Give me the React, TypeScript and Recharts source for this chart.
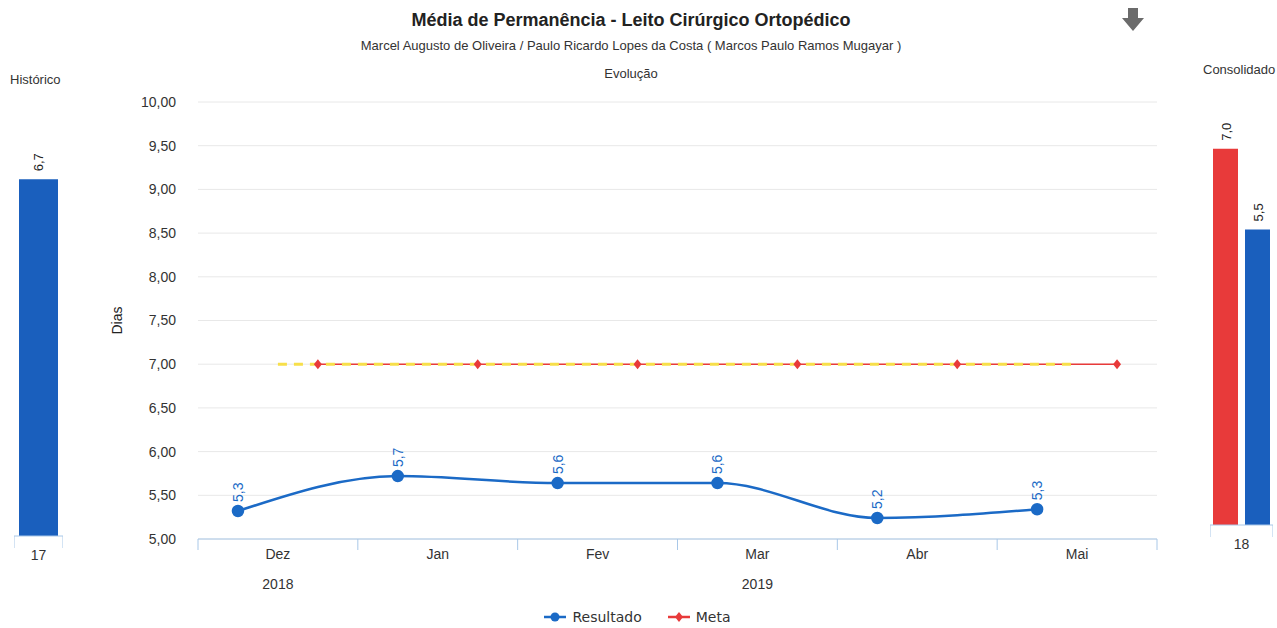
import React from 'react'
import {
  LineChart, Line, XAxis, YAxis, CartesianGrid, Legend, LabelList,
  BarChart, Bar,
} from 'recharts'

// Evolução (main line chart)
const meses = ['Dez', 'Jan', 'Fev', 'Mar', 'Abr', 'Mai']
const anos = ['2018', '2019']
const resultado = [5.32, 5.72, 5.64, 5.64, 5.24, 5.34]
const meta = [7.0, 7.0, 7.0, 7.0, 7.0, 7.0]
const yTicks = [5, 5.5, 6, 6.5, 7, 7.5, 8, 8.5, 9, 9.5, 10]

// Histórico / Consolidado side charts
const historicoCat = ['17']
const historicoValor = [6.7]
const consolidadoCat = ['18']
const consolidadoMeta = [7.0]
const consolidadoResultado = [5.5]

const BLUE = '#1a5fbd'
const LINE_BLUE = '#1b6ac6'
const RED = '#e83a3a'
const YELLOW = '#f7df4a'
const AXIS_BLUE = '#a9c8e8'
const FONT = '"Liberation Sans", Arial, sans-serif'

const resultadoData = resultado.map((v, i) => ({ x: i + 0.25, v }))
const metaData = meta.map((v, i) => ({ x: i + 0.75, v }))
const tendenciaData = meta.map((v, i) => ({ x: i + 0.5, v }))
const boundaries = meses.map((_, i) => i).concat([meses.length])

const historicoData = historicoCat.map((c, i) => ({ c, v: historicoValor[i] }))
const consolidadoData = consolidadoCat.map((c, i) => ({
  c, meta: consolidadoMeta[i], res: consolidadoResultado[i],
}))

const fmt1 = (v: number) => v.toFixed(1).replace('.', ',')
const fmt2 = (v: number) => v.toFixed(2).replace('.', ',')

const RotLabel = (color: string, size = 13, gap = 8) => (p: any) => {
  const x = p.x + (p.width ? p.width / 2 : 0) + 5
  const y = p.y - gap
  return (
    <text x={x} y={y} transform={`rotate(-90 ${x} ${y})`} fill={color}
      fontSize={size} fontFamily={FONT} textAnchor="start">
      {fmt1(p.value)}
    </text>
  )
}

const Diamond = (p: any) => (
  <path key={`d${p.index}`} d={`M${p.cx},${p.cy - 5}L${p.cx + 4},${p.cy}L${p.cx},${p.cy + 5}L${p.cx - 4},${p.cy}Z`} fill={RED} />
)

// month label centred in each band, year label centred over its months
const MonthTick = (p: any) => {
  const i = p.payload.value
  if (i >= meses.length) return null
  const band = p.width / meses.length
  const x = p.x + band / 2
  const yearX = i === 0 ? x : i === 1 ? p.x + (band * (meses.length - 1)) / 2 : null
  return (
    <g>
      <text x={x} y={p.y + 9} textAnchor="middle" fill="#333" fontSize={14} fontFamily={FONT}>{meses[i]}</text>
      {yearX !== null && (
        <text x={yearX} y={p.y + 39} textAnchor="middle" fill="#333" fontSize={14} fontFamily={FONT}>
          {i === 0 ? anos[0] : anos[1]}
        </text>
      )}
    </g>
  )
}

const BracketTick = (p: any) => {
  const half = p.width / 2
  const cx = p.payload.coordinate
  return (
    <g>
      <line x1={cx - half} y1={p.y - 8} x2={cx - half} y2={p.y + 4} stroke={AXIS_BLUE} />
      <line x1={cx + half} y1={p.y - 8} x2={cx + half} y2={p.y + 4} stroke={AXIS_BLUE} />
      <text x={cx} y={p.y + 16} textAnchor="middle" fill="#333" fontSize={14} fontFamily={FONT}>
        {p.payload.value}
      </text>
    </g>
  )
}

const legendOrder = ['Resultado', 'Meta']
const LegendContent = (props: any) => {
  const items = (props.payload || [])
    .filter((e: any) => legendOrder.includes(e.value))
    .sort((a: any, b: any) => legendOrder.indexOf(a.value) - legendOrder.indexOf(b.value))
  return (
    <div style={{ display: 'flex', justifyContent: 'center', gap: 26, fontFamily: '"DejaVu Sans", sans-serif', fontSize: 14, color: '#333' }}>
      {items.map((e: any) => (
        <span key={e.value} style={{ display: 'flex', alignItems: 'center', gap: 6 }}>
          <svg width={22} height={12}>
            <line x1={0} y1={6} x2={22} y2={6} stroke={e.color} strokeWidth={2.5} />
            {e.value === 'Resultado'
              ? <circle cx={11} cy={6} r={4.5} fill={e.color} />
              : <path d="M11,1L15,6L11,11L7,6Z" fill={e.color} />}
          </svg>
          {e.value}
        </span>
      ))}
    </div>
  )
}

const DiasLabel = (p: any) => {
  const vb = p.viewBox
  const x = vb.x + 4
  const y = vb.y + vb.height / 2
  return (
    <text x={x} y={y} transform={`rotate(-90 ${x} ${y})`} textAnchor="middle"
      fontSize={14} fontFamily={FONT} fill="#222">Dias</text>
  )
}

export default function App() {
  return (
    <div style={{ position: 'absolute', left: 0, top: 0, width: 1277, height: 628, background: '#fff', fontFamily: FONT, overflow: 'hidden' }}>
      <div style={{ position: 'absolute', top: 10, left: 0, width: 1262, textAlign: 'center', fontSize: 18, fontWeight: 'bold', color: '#222' }}>
        Média de Permanência - Leito Cirúrgico Ortopédico
      </div>
      <div style={{ position: 'absolute', top: 38, left: 0, width: 1262, textAlign: 'center', fontSize: 13, color: '#333' }}>
        Marcel Augusto de Oliveira / Paulo Ricardo Lopes da Costa ( Marcos Paulo Ramos Mugayar )
      </div>
      <div style={{ position: 'absolute', top: 66, left: 0, width: 1262, textAlign: 'center', fontSize: 13, color: '#333' }}>
        Evolução
      </div>
      <svg style={{ position: 'absolute', left: 1122, top: 8 }} width={22} height={24}>
        <path d="M6,0H16V10H22L11,23L0,10H6Z" fill="#6b6b6b" />
      </svg>
      <div style={{ position: 'absolute', top: 72, left: 10, fontSize: 13, color: '#333' }}>Histórico</div>
      <div style={{ position: 'absolute', top: 62, left: 1203, fontSize: 13, color: '#333' }}>Consolidado</div>

      <div style={{ position: 'absolute', left: 0, top: 0 }}>
        <LineChart width={1277} height={628} margin={{ top: 102, right: 120, left: 118, bottom: 0 }}>
          <CartesianGrid vertical={false} stroke="#e8e8e8" xAxisId="b" />
          <XAxis xAxisId="b" dataKey="x" type="number" domain={[0, meses.length]} ticks={boundaries}
            stroke={AXIS_BLUE} tickSize={11} tickMargin={0} height={70} tick={<MonthTick />}
            allowDataOverflow />
          <YAxis type="number" domain={[5, 10]} ticks={yTicks} width={80} axisLine={false} tickLine={false}
            tickSize={0} tickMargin={22} tickFormatter={fmt2}
            tick={{ fill: '#333', fontSize: 14, fontFamily: FONT }} label={<DiasLabel />} />
          <Legend verticalAlign="bottom" height={19} content={<LegendContent />} />
          <Line xAxisId="b" data={metaData} dataKey="v" name="Meta" type="linear" stroke={RED}
            strokeWidth={1.5} dot={<Diamond />} isAnimationActive={false} />
          <Line xAxisId="b" data={tendenciaData} dataKey="v" name="Tendência" type="linear" stroke={YELLOW}
            strokeWidth={3} strokeDasharray="9 7" dot={false} legendType="none" isAnimationActive={false} />
          <Line xAxisId="b" data={resultadoData} dataKey="v" name="Resultado" type="monotone" stroke={LINE_BLUE}
            strokeWidth={2.5} dot={{ r: 5, fill: LINE_BLUE, stroke: LINE_BLUE }} isAnimationActive={false}>
            <LabelList dataKey="v" content={RotLabel(LINE_BLUE, 14, 9)} />
          </Line>
        </LineChart>
      </div>

      <div style={{ position: 'absolute', left: 14, top: 110 }}>
        <BarChart width={49} height={470} data={historicoData} margin={{ top: 0, right: 0, left: 0, bottom: 0 }}
          barCategoryGap={5}>
          <XAxis dataKey="c" stroke={AXIS_BLUE} tickLine={false} height={44} tick={<BracketTick />} />
          <YAxis hide domain={[0, 8]} />
          <Bar dataKey="v" fill={BLUE} isAnimationActive={false}>
            <LabelList dataKey="v" content={RotLabel('#222')} />
          </Bar>
        </BarChart>
      </div>

      <div style={{ position: 'absolute', left: 1210, top: 95 }}>
        <BarChart width={63} height={474} data={consolidadoData} margin={{ top: 0, right: 0, left: 0, bottom: 0 }}
          barCategoryGap={3} barGap={7}>
          <XAxis dataKey="c" stroke={AXIS_BLUE} tickLine={false} height={44} tick={<BracketTick />} />
          <YAxis hide domain={[0, 8]} />
          <Bar dataKey="meta" fill={RED} isAnimationActive={false}>
            <LabelList dataKey="meta" content={RotLabel('#222')} />
          </Bar>
          <Bar dataKey="res" fill={BLUE} isAnimationActive={false}>
            <LabelList dataKey="res" content={RotLabel('#222')} />
          </Bar>
        </BarChart>
      </div>
    </div>
  )
}
